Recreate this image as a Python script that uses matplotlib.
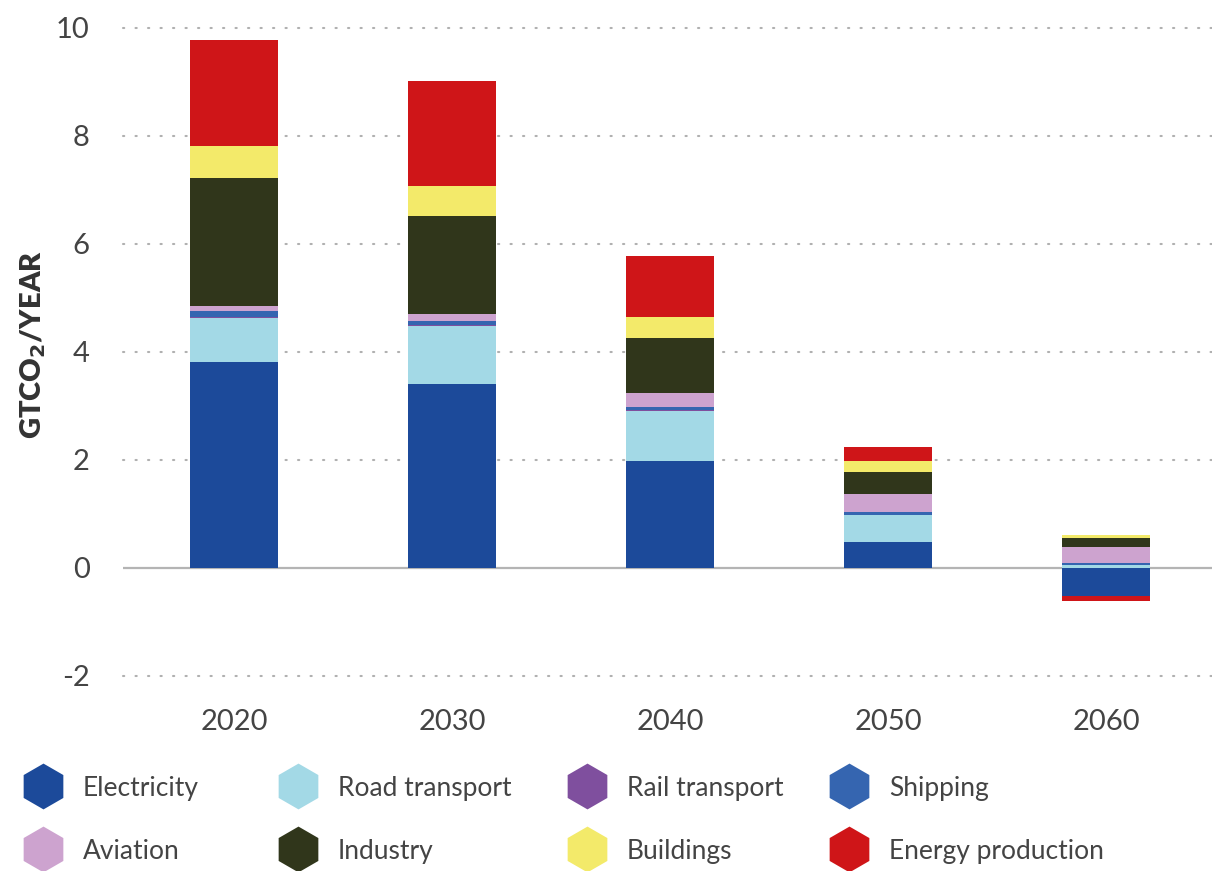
import numpy as np
import matplotlib
matplotlib.use("Agg")
import matplotlib.pyplot as plt
from matplotlib.lines import Line2D

plt.rcParams["font.family"] = ["Lato", "DejaVu Sans"]
plt.rcParams["mathtext.fontset"] = "dejavusans"

years = ["2020", "2030", "2040", "2050", "2060"]
sectors = ["Electricity", "Road transport", "Rail transport", "Shipping",
           "Aviation", "Industry", "Buildings", "Energy production"]

# GtCO2 per year by sector
electricity = [3.81, 3.41, 1.98, 0.48, -0.52]
road_transport = [0.82, 1.07, 0.93, 0.50, 0.05]
rail_transport = [0.02, 0.02, 0.02, 0.01, 0.01]
shipping = [0.11, 0.07, 0.06, 0.05, 0.03]
aviation = [0.09, 0.13, 0.25, 0.33, 0.30]
industry = [2.37, 1.81, 1.02, 0.41, 0.17]
buildings = [0.59, 0.57, 0.39, 0.20, 0.05]
energy_production = [1.96, 1.94, 1.13, 0.26, -0.09]

colors = ["#1c4a9a", "#a3d9e6", "#7f4f9e", "#3565b0",
          "#cda3cf", "#30361b", "#f3ea6a", "#cf1518"]

series = [electricity, road_transport, rail_transport, shipping,
          aviation, industry, buildings, energy_production]

fig = plt.figure(figsize=(12.12, 8.71), dpi=100)
ax = fig.add_axes([0.1015, 0.2239, 0.8985, 0.744])

x = np.arange(len(years))
pos_base = np.zeros(len(years))
neg_base = np.zeros(len(years))
for vals, col, name in zip(series, colors, sectors):
    v = np.asarray(vals, dtype=float)
    bottom = np.where(v >= 0, pos_base, neg_base)
    ax.bar(x, v, width=0.4, bottom=bottom, color=col, linewidth=0,
           zorder=3, label=name)
    pos_base = pos_base + np.clip(v, 0, None)
    neg_base = neg_base + np.clip(v, None, 0)

ax.set_xlim(-0.509, 4.486)
ax.set_ylim(-2, 10)
ax.set_yticks([-2, 0, 2, 4, 6, 8, 10])
ax.set_yticklabels(["-2", "0", "2", "4", "6", "8", "10"])
ax.set_xticks(x)
ax.set_xticklabels(years)

for t in [-2, 2, 4, 6, 8, 10]:
    ax.axhline(t, color="#b0b0b0", linewidth=1.5, linestyle=(0, (0.6, 5.4)),
               dash_capstyle="round", zorder=1, clip_on=False)
ax.axhline(0, color="#b4b4b4", linewidth=1.6, zorder=2)

for s in ax.spines.values():
    s.set_visible(False)
ax.tick_params(axis="both", length=0, labelsize=21, labelcolor="#444444")
ax.tick_params(axis="y", pad=24)
ax.tick_params(axis="x", pad=24)

fig.text(0.027, 0.604, "GTCO$_\\mathbf{2}$/YEAR", rotation=90, ha="center",
         va="center", fontsize=21, fontweight="heavy", color="#333333")

# legend laid out in two rows of four
col_x = [43, 298, 587, 849]
row_y = [786, 849]
W, H = 1212, 871
for i, (name, col) in enumerate(zip(sectors, colors)):
    r, c = divmod(i, 4)
    fx = col_x[c] / W
    fy = 1 - row_y[r] / H
    fig.add_artist(Line2D([fx], [fy], marker="h", markersize=33,
                          color=col, markeredgewidth=0, linestyle="none",
                          transform=fig.transFigure))
    fig.text(fx + 40 / W, fy, name, ha="left", va="center_baseline",
             fontsize=19, color="#444444")

fig.savefig("out.png", dpi=100)
